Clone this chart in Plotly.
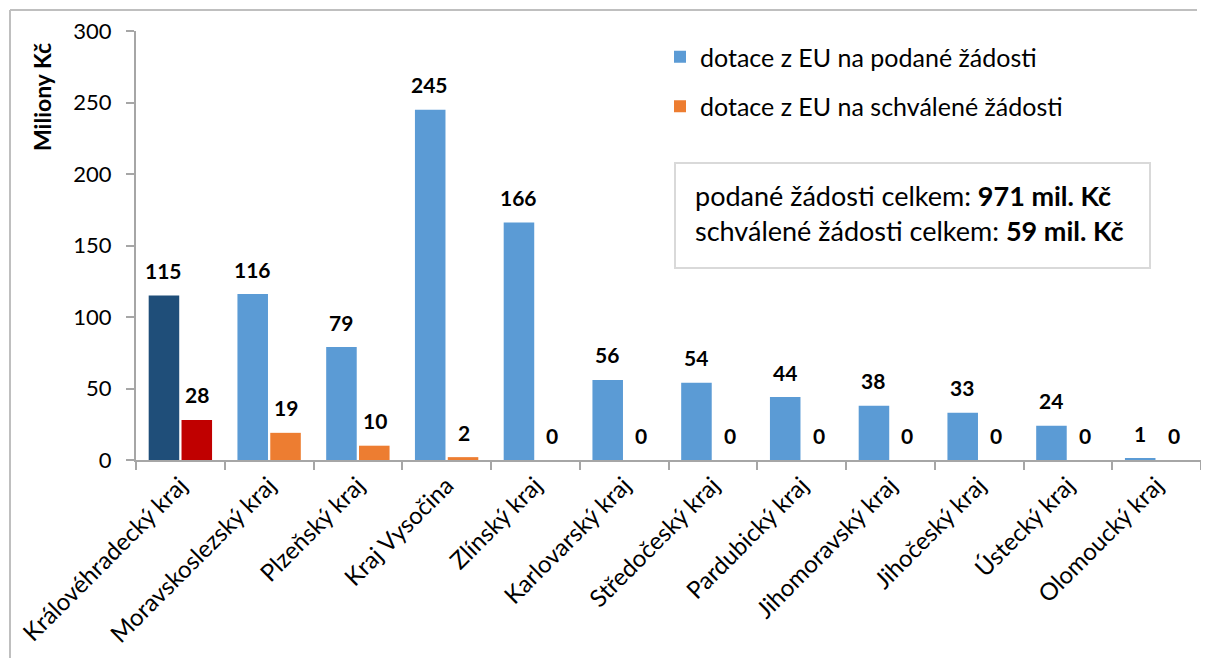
import plotly.graph_objects as go

categories = ["Královéhradecký kraj", "Moravskoslezský kraj", "Plzeňský kraj", "Kraj Vysočina",
              "Zlínský kraj", "Karlovarský kraj", "Středočeský kraj", "Pardubický kraj",
              "Jihomoravský kraj", "Jihočeský kraj", "Ústecký kraj", "Olomoucký kraj"]
podane = [115, 116, 79, 245, 166, 56, 54, 44, 38, 33, 24, 1]
schvalene = [28, 19, 10, 2, 0, 0, 0, 0, 0, 0, 0, 0]
series_names = ["dotace z EU na podané žádosti", "dotace z EU na schválené žádosti"]
y_ticks = [0, 50, 100, 150, 200, 250, 300]
total_podane = 971
total_schvalene = 59

BLUE = "#5B9BD5"
ORANGE = "#ED7D31"
DARK_BLUE = "#1F4E79"
RED = "#C00000"
FONT = "Lato"

blue_colors = [DARK_BLUE] + [BLUE] * (len(categories) - 1)
orange_colors = [RED] + [ORANGE] * (len(categories) - 1)

fig = go.Figure()
fig.add_trace(go.Bar(x=categories, y=podane, marker=dict(color=blue_colors, line=dict(width=0)),
                     showlegend=False, name=series_names[0]))
fig.add_trace(go.Bar(x=categories, y=schvalene, marker=dict(color=orange_colors, line=dict(width=0)),
                     showlegend=False, name=series_names[1]))
# legend entries
fig.add_trace(go.Scatter(x=[None], y=[None], mode="markers", name=series_names[0], legendgroup="a",
                         marker=dict(symbol="square", size=13, color=BLUE)))
fig.add_trace(go.Scatter(x=[None], y=[None], mode="markers", name=series_names[1], legendgroup="b",
                         marker=dict(symbol="square", size=13, color=ORANGE)))

annotations = []
for c, v in zip(categories, podane):
    annotations.append(dict(x=c, y=v, xref="x", yref="y", text=f"<b>{v}</b>", showarrow=False,
                            xshift=-17, yshift=25, font=dict(size=21, color="#000", family=FONT)))
for c, v in zip(categories, schvalene):
    annotations.append(dict(x=c, y=v, xref="x", yref="y", text=f"<b>{v}</b>", showarrow=False,
                            xshift=17, yshift=25, font=dict(size=21, color="#000", family=FONT)))

# screen geometry (page body has an 8px margin on every side)
OFF = 8
L, R, T, B = 136, 1201, 31, 460
W, H = R - L, B - T
px = lambda x: (x - L) / W
py = lambda y: (B - y) / H

annotations.append(dict(x=px(42), y=py(97), xref="paper", yref="paper", text="<b>Miliony Kč</b>",
                        textangle=-90, showarrow=False, xanchor="center", yanchor="middle",
                        font=dict(size=23, color="#000", family=FONT)))
annotations.append(dict(x=px(693), y=py(213), xref="paper", yref="paper",
                        text=f"podané žádosti celkem: <b>{total_podane} mil. Kč</b><br>"
                             f"schválené žádosti celkem: <b>{total_schvalene} mil. Kč</b>",
                        align="left", showarrow=False, xanchor="left", yanchor="middle",
                        font=dict(size=27, color="#000", family=FONT)))

shapes = [
    # chart-area frame: left and top edges
    dict(type="line", xref="paper", yref="paper", x0=px(10), x1=px(10), y0=py(10), y1=py(658),
         line=dict(color="#BFBFBF", width=2)),
    dict(type="line", xref="paper", yref="paper", x0=px(10), x1=px(1197), y0=py(10), y1=py(10),
         line=dict(color="#BFBFBF", width=2)),
    # totals box
    dict(type="rect", xref="paper", yref="paper", x0=px(675), x1=px(1150), y0=py(268), y1=py(163),
         line=dict(color="#D9D9D9", width=2), fillcolor="white", layer="below"),
]

fig.update_layout(
    width=1209 - 2 * OFF, height=667 - 2 * OFF,
    margin=dict(l=L - OFF, r=1209 - OFF - R, t=T - OFF, b=667 - OFF - B, autoexpand=False),
    paper_bgcolor="white", plot_bgcolor="rgba(0,0,0,0)",
    barmode="group", bargap=0.26, bargroupgap=0.07,
    font=dict(family=FONT, color="#000"),
    showlegend=True,
    legend=dict(x=px(660), y=py(34), xanchor="left", yanchor="top", font=dict(size=25, family=FONT),
                bgcolor="rgba(0,0,0,0)", tracegroupgap=14, itemsizing="constant"),
    annotations=annotations,
    shapes=shapes,
    xaxis=dict(type="category", showgrid=False, showline=True, linecolor="#A6A6A6", linewidth=2,
               ticks="outside", tickson="boundaries", ticklen=8, tickcolor="#A6A6A6", tickwidth=2,
               tickangle=-45, tickfont=dict(size=24, family=FONT, color="#000")),
    yaxis=dict(range=[0, 300], tickvals=y_ticks, showgrid=False, showline=True, linecolor="#A6A6A6",
               linewidth=2, ticks="outside", ticklen=8, tickcolor="#A6A6A6", tickwidth=2,
               ticklabelstandoff=10, zeroline=False,
               tickfont=dict(size=22, family=FONT, color="#000")),
)

fig.write_html("out.html", config={"displayModeBar": False})
